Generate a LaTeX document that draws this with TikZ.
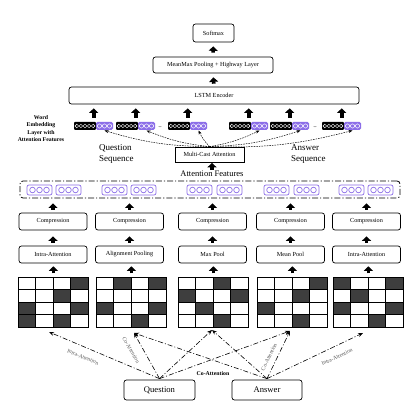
\documentclass[tikz,border=0pt]{standalone}
\usepackage{fontspec}
\setmainfont{Liberation Serif}
\usetikzlibrary{arrows.meta,calc}
\definecolor{purp}{RGB}{140,110,232}
\definecolor{darkcell}{RGB}{62,62,62}
\definecolor{lblgray}{RGB}{90,90,90}
\newcommand\embblk[2]{%
  \node[minimum width=39pt, minimum height=8pt, inner sep=0pt, anchor=west] (#1) at (#2,126) {};
  \fill[black, rounded corners=1pt] (#2,122) rectangle ++(22,8);
  \foreach \i in {0,...,4} {\draw[white, line width=0.4pt] (#2+2.8+\i*4.1,126) circle (1.8pt);}
  \fill[purp, rounded corners=1.5pt] (#2+22,122) rectangle ++(17,8);
  \foreach \i in {0,1,2} {\draw[white, line width=0.5pt] (#2+22+3.5+\i*5,126) circle (2.1pt);}
  \coordinate (#1p) at (#2+30.5,130.5);
}
\newcommand\attblk[1]{%
  \draw[purp, fill=white, rounded corners=2pt, line width=0.7pt] (#1,185) rectangle ++(25,10);
  \foreach \i in {0,1,2} {\draw[purp, line width=0.7pt] (#1+5.5+\i*7,190) circle (2.8pt);}
}
\newcommand\attgrid[3]{% name, left, dark cells col/row
  \foreach \c/\r in {#3} {\fill[darkcell] (#2+\c*17.5,277+\r*12.5) rectangle ++(17.5,12.5);}
  \foreach \i in {1,2,3} {\draw[line width=0.7pt] (#2+\i*17.5,277) -- ++(0,50);}
  \foreach \j in {1,2,3} {\draw[line width=0.7pt] (#2,277+\j*12.5) -- ++(70,0);}
  \node[draw, line width=0.8pt, minimum width=70pt, minimum height=50pt, inner sep=0pt, anchor=north west] (#1) at (#2,277) {};
}
\begin{document}
\begin{tikzpicture}[x=1pt,y=-1pt,
  box/.style={draw, rounded corners=2.5pt, line width=0.7pt, inner sep=0pt, font=\fontsize{6.2}{7}\selectfont},
  fat/.style={-{Triangle[width=9pt,length=4.5pt]}, line width=3.6pt},
  dd/.style={dash pattern=on 5pt off 2pt on 1pt off 2pt, line width=0.6pt, -{Stealth[length=5pt,width=4pt]}},
  dsh/.style={dash pattern=on 1.6pt off 1pt, line width=0.5pt, -{Stealth[length=4pt,width=3pt]}},
  lbl/.style={font=\fontsize{5.6}{6}\selectfont, text=lblgray, inner sep=0pt}]
\fill[white] (0,0) rectangle (416,414);
\useasboundingbox (0,0) rectangle (416,414);

% top stack
\node[box, minimum width=41pt, minimum height=18pt] (soft) at (213.5,33) {Softmax};
\node[box, minimum width=120pt, minimum height=16pt] (mm) at (213,65) {MeanMax Pooling + Highway Layer};
\node[box, minimum width=290pt, minimum height=17pt] (lstm) at (214,95.5) {LSTM Encoder};
\draw[fat, shorten <=4pt, shorten >=4pt] (mm.north) -- (soft.south);
\draw[fat, shorten <=3pt, shorten >=4pt] (lstm.north) -- (mm.south);

% embeddings
\embblk{e1}{74}
\embblk{e2}{116}
\embblk{e3}{168}
\embblk{e4}{229}
\embblk{e5}{270}
\embblk{e6}{322}
\node[font=\fontsize{7}{7}\selectfont, inner sep=0pt] (dl) at (160,127.5) {..};
\node[font=\fontsize{7}{7}\selectfont, inner sep=0pt] (dr) at (315,127.5) {..};
\foreach \e in {e1,e2,e3,e4,e5,e6}{
  \draw[fat, shorten <=4pt, shorten >=4pt] (\e.north) -- (\e.north |- lstm.south);}

\node[align=center, font=\fontsize{5.8}{7.6}\selectfont\bfseries, inner sep=0pt] (wel) at (41,128.5) {Word\\Embedding\\Layer with\\Attention Features};
\node[align=left, anchor=west, font=\fontsize{9}{10.5}\selectfont, inner sep=0pt] (qs) at (99,154) {Question\\Sequence};
\node[align=left, anchor=west, font=\fontsize{9}{10.5}\selectfont, inner sep=0pt] (as) at (291,154) {Answer\\Sequence};

% multi-cast attention
\node[box, rounded corners=0pt, minimum width=69pt, minimum height=15pt] (mca) at (209.5,154.5) {Multi-Cast Attention};
\foreach \e in {e1,e2,e3}{
  \draw[dsh] (mca.north) to[bend left=8] (\e p);}
\foreach \e in {e4,e5,e6}{
  \draw[dsh] (mca.north) to[bend right=8] (\e p);}

\node[font=\fontsize{8.5}{9}\selectfont, inner sep=0pt] (aft) at (212,174) {Attention Features};
\draw[fat, shorten <=1pt, shorten >=0.5pt] (aft.north) -- (aft.north |- mca.south);

% attention features box
\node[draw, rounded corners=3pt, line width=0.8pt, dash pattern=on 6pt off 2pt on 1.2pt off 2pt, minimum width=380pt, minimum height=17pt, inner sep=0pt] (af) at (210,189.5) {};
\foreach \x in {27,56,102,131,187,217,264,294,339,368} {\attblk{\x}}

% compression & pooling rows
\foreach \n/\x/\t in {1/53/Intra-Attention,2/129.5/Alignment Pooling,3/212.5/Max Pool,4/290.5/Mean Pool,5/366.5/Intra-Attention}{
  \node[box, minimum width=68pt, minimum height=17pt] (c\n) at (\x,221.5) {Compression};
  \node[box, minimum width=68pt, minimum height=17pt] (p\n) at (\x,254.5) {\t};
  \draw[fat, shorten <=3pt, shorten >=5pt] (c\n.north) -- (c\n.north |- af.south);
  \draw[fat, shorten <=3pt, shorten >=6pt] (p\n.north) -- (c\n.south);
}

% grids
\attgrid{g1}{18}{3/0,2/1,0/2,3/2,0/3,2/3}
\attgrid{g2}{96}{1/0,3/0,0/2,3/2,2/3}
\attgrid{g3}{178}{2/0,0/1,3/1,1/2,2/3}
\attgrid{g4}{257}{3/0,2/1,0/2,2/3}
\attgrid{g5}{333}{0/0,3/0,1/1,0/2,3/2,2/3}
\foreach \n in {1,...,5}{
  \draw[fat, shorten <=3.5pt, shorten >=3pt] (g\n.north) -- (g\n.north |- p\n.south);}

% question / answer
\node[box, minimum width=71pt, minimum height=20pt, font=\fontsize{8.6}{9}\selectfont] (q) at (159.5,390) {Question};
\node[box, minimum width=70pt, minimum height=20pt, font=\fontsize{8.6}{9}\selectfont] (a) at (267,390) {Answer};

\coordinate (t1) at (49,332);
\coordinate (t2) at (134,333);
\coordinate (t3) at (212,330);
\coordinate (t4) at (290,331);
\coordinate (t5) at (363,333);
\foreach \t in {t1,t2,t3,t4}{\draw[dd] ($(q.north)+(0,-1)$) -- (\t);}
\foreach \t in {t2,t3,t4,t5}{\draw[dd] ($(a.north)+(0,-1)$) -- (\t);}

\node[lbl, rotate=-22.5] (l1) at (83,357) {Intra-Attention};
\node[lbl, rotate=-60] (l2) at (131,350) {Co-Attention};
\node[font=\fontsize{5.8}{6}\selectfont\bfseries, inner sep=0pt] (l3) at (213,374) {Co-Attention};
\node[lbl, rotate=64] (l4) at (269,357) {Co-Attention};
\node[lbl, rotate=25] (l5) at (337,357) {Intra-Attention};
\end{tikzpicture}
\end{document}
